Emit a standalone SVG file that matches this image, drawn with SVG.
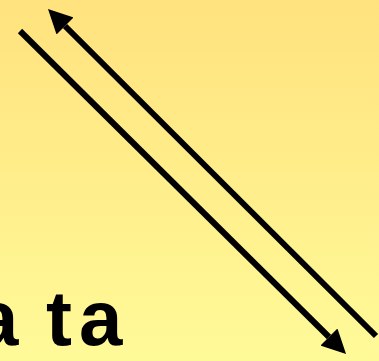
<svg xmlns="http://www.w3.org/2000/svg" width="379" height="361" viewBox="0 0 379 361">
  <defs>
    <linearGradient id="bg" x1="0" y1="0" x2="0" y2="1">
      <stop offset="0" stop-color="#FFE27E"/>
      <stop offset="1" stop-color="#FFFA98"/>
    </linearGradient>
    <marker id="arrow" viewBox="0 0 10 10" refX="0" refY="5" markerWidth="4.2" markerHeight="4" orient="auto" markerUnits="strokeWidth">
      <path d="M0,0 L10,5 L0,10 z" fill="#000"/>
    </marker>
    <style>
      .conn { stroke: #000; stroke-width: 6; fill: none; marker-end: url(#arrow); }
      .label { font-family: "Liberation Sans", Arial, sans-serif; font-weight: bold; font-size: 78px; fill: #000; }
    </style>
  </defs>
  <rect x="0" y="0" width="379" height="361" fill="url(#bg)"/>
  <g id="connectors">
    <line class="conn" x1="20" y1="31" x2="329" y2="337"/>
    <line class="conn" x1="376" y1="336" x2="65" y2="26"/>
  </g>
  <g id="label-data">
    <text class="label" x="-25 46 79" y="345">ata</text>
  </g>
</svg>
